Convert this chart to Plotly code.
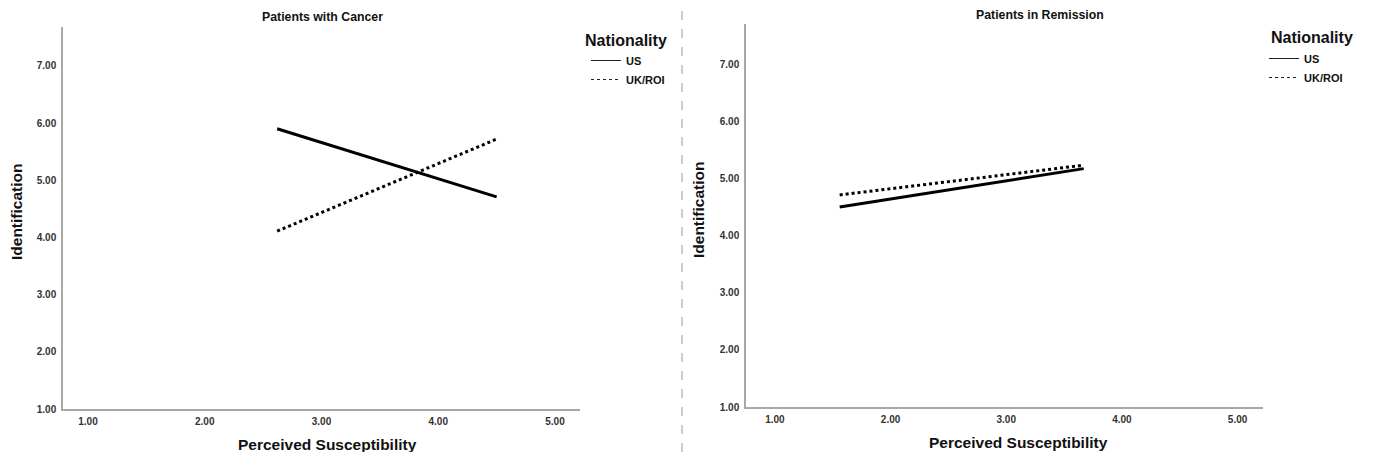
import plotly.graph_objects as go

# Data
x_cancer = [2.62, 4.50]
us_cancer = [5.90, 4.71]
uk_cancer = [4.11, 5.72]

x_remission = [1.56, 3.67]
us_remission = [4.50, 5.17]
uk_remission = [4.71, 5.23]

tick_vals = [1, 2, 3, 4, 5, 6, 7]
tick_text = ["1.00", "2.00", "3.00", "4.00", "5.00", "6.00", "7.00"]
x_tick_vals = [1, 2, 3, 4, 5]
x_tick_text = ["1.00", "2.00", "3.00", "4.00", "5.00"]

OFF = 8  # page body margin
W, H = 1373 - 2 * OFF, 460 - 2 * OFF
FONT = "Liberation Sans, Arial, sans-serif"

fig = go.Figure()

# Data traces
fig.add_trace(go.Scatter(x=x_cancer, y=us_cancer, mode="lines", xaxis="x", yaxis="y",
                         line=dict(color="black", width=3), showlegend=False))
fig.add_trace(go.Scatter(x=x_cancer, y=uk_cancer, mode="lines", xaxis="x", yaxis="y",
                         line=dict(color="black", width=3, dash="dot"), showlegend=False))
fig.add_trace(go.Scatter(x=x_remission, y=us_remission, mode="lines", xaxis="x2", yaxis="y2",
                         line=dict(color="black", width=3), showlegend=False))
fig.add_trace(go.Scatter(x=x_remission, y=uk_remission, mode="lines", xaxis="x2", yaxis="y2",
                         line=dict(color="black", width=3, dash="dot"), showlegend=False))

# Legend entries (thin lines)
for lg, xa, ya in [("legend", "x", "y"), ("legend2", "x2", "y2")]:
    fig.add_trace(go.Scatter(x=[None], y=[None], mode="lines", xaxis=xa, yaxis=ya, name="US",
                             line=dict(color="#222", width=1), legend=lg))
    fig.add_trace(go.Scatter(x=[None], y=[None], mode="lines", xaxis=xa, yaxis=ya, name="UK/ROI",
                             line=dict(color="#222", width=1, dash="dot"), legend=lg))

def px_x(p):
    return (p - OFF) / W

def px_y(p):
    return 1 - (p - OFF) / H

axis_common = dict(
    showgrid=False, zeroline=False, showline=True, linecolor="#a8a8a8", linewidth=1.5,
    ticks="", tickfont=dict(family=FONT, size=10, color="#333", weight="bold"), automargin=False,
)

legend_common = dict(
    bgcolor="rgba(0,0,0,0)", font=dict(family=FONT, size=11, color="#111", weight="bold"),
    tracegroupgap=0, itemwidth=30, xanchor="left", yanchor="top", itemclick=False,
)

fig.update_layout(
    width=W, height=H,
    margin=dict(l=0, r=0, t=0, b=0),
    paper_bgcolor="white", plot_bgcolor="white",
    xaxis=dict(domain=[px_x(63), px_x(580)], range=[0.786, 5.214], anchor="y",
               tickvals=x_tick_vals, ticktext=x_tick_text, ticklabelstandoff=2, **axis_common),
    yaxis=dict(domain=[px_y(409), px_y(27)], range=[1, 7.68], anchor="x",
               tickvals=tick_vals, ticktext=tick_text, ticklabelstandoff=3, **axis_common),
    xaxis2=dict(domain=[px_x(746), px_x(1263)], range=[0.75, 5.22], anchor="y2",
                tickvals=x_tick_vals, ticktext=x_tick_text, ticklabelstandoff=2, **axis_common),
    yaxis2=dict(domain=[px_y(407), px_y(24)], range=[1, 7.70], anchor="x2",
                tickvals=tick_vals, ticktext=tick_text, ticklabelstandoff=3, **axis_common),
    legend=dict(x=px_x(586), y=px_y(46), **legend_common),
    legend2=dict(x=px_x(1264), y=px_y(44), **legend_common),
    showlegend=True,
)

annos = [
    dict(text="<b>Patients with Cancer</b>", x=px_x(322), y=px_y(17), font=dict(size=12.3)),
    dict(text="<b>Patients in Remission</b>", x=px_x(1040), y=px_y(15), font=dict(size=12.3)),
    dict(text="<b>Perceived Susceptibility</b>", x=px_x(327), y=px_y(444), font=dict(size=15.5)),
    dict(text="<b>Perceived Susceptibility</b>", x=px_x(1019), y=px_y(442), font=dict(size=15.5)),
    dict(text="<b>Identification</b>", x=px_x(16), y=px_y(212), font=dict(size=15.5), textangle=-90),
    dict(text="<b>Identification</b>", x=px_x(698), y=px_y(210), font=dict(size=15.5), textangle=-90),
]
for a in annos:
    a["font"].update(family=FONT, color="#111")
    fig.add_annotation(xref="paper", yref="paper", showarrow=False, xanchor="center", yanchor="middle", **a)

# Legend titles
for lx, ly in [(583, 40), (1269, 38)]:
    fig.add_annotation(xref="paper", yref="paper", showarrow=False, xanchor="left", yanchor="middle",
                       x=px_x(lx), y=px_y(ly), text="<b>Nationality</b>",
                       font=dict(family=FONT, size=16, color="#111"))

fig.add_shape(type="line", xref="paper", yref="paper", x0=px_x(682), x1=px_x(682), y0=px_y(452), y1=1,
              line=dict(color="#999", width=1, dash="dash"))

fig.write_html("out.html")
